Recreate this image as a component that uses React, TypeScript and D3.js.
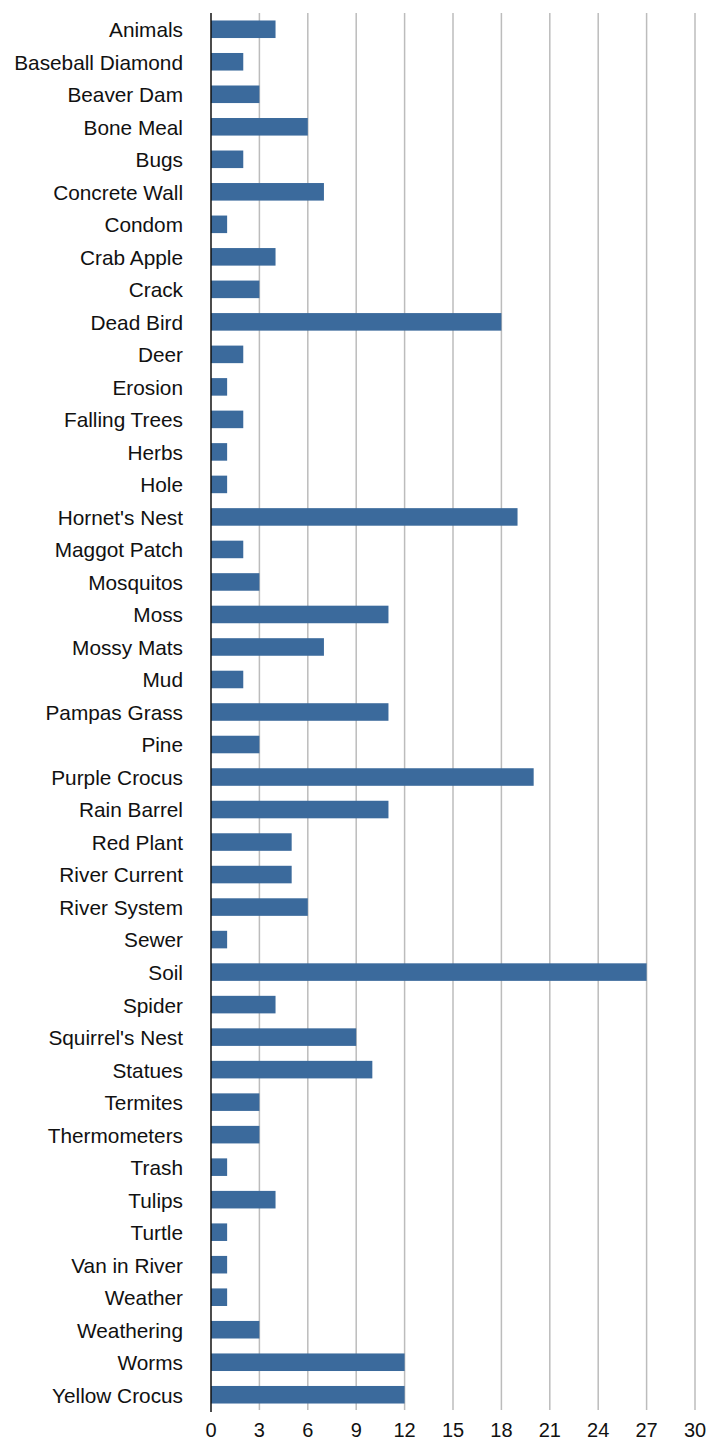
import React from "react";
import * as d3 from "d3";

const categories: string[] = [
  "Animals", "Baseball Diamond", "Beaver Dam", "Bone Meal", "Bugs", "Concrete Wall",
  "Condom", "Crab Apple", "Crack", "Dead Bird", "Deer", "Erosion", "Falling Trees",
  "Herbs", "Hole", "Hornet's Nest", "Maggot Patch", "Mosquitos", "Moss", "Mossy Mats",
  "Mud", "Pampas Grass", "Pine", "Purple Crocus", "Rain Barrel", "Red Plant",
  "River Current", "River System", "Sewer", "Soil", "Spider", "Squirrel's Nest",
  "Statues", "Termites", "Thermometers", "Trash", "Tulips", "Turtle", "Van in River",
  "Weather", "Weathering", "Worms", "Yellow Crocus",
];

const counts: number[] = [
  4, 2, 3, 6, 2, 7,
  1, 4, 3, 18, 2, 1, 2,
  1, 1, 19, 2, 3, 11, 7,
  2, 11, 3, 20, 11, 5,
  5, 6, 1, 27, 4, 9,
  10, 3, 3, 1, 4, 1, 1,
  1, 3, 12, 12,
];

const ticks: number[] = [0, 3, 6, 9, 12, 15, 18, 21, 24, 27, 30];

const width = 709;
const height = 1443;
const left = 211;
const right = 695;
const top = 13;
const bottom = 1411;
const font = "'Liberation Sans', Arial, Helvetica, sans-serif";

const App = () => {
  const x = d3.scaleLinear().domain([0, 30]).range([left, right]);
  const y = d3.scaleBand<string>().domain(categories).range([top, bottom]).paddingInner(0.46).paddingOuter(0.23);

  return (
    <svg width={width} height={height} style={{ position: "absolute", left: 0, top: 0, background: "#fff" }}>
      {ticks.slice(1).map((t) => (
        <line key={"g" + t} x1={x(t)} x2={x(t)} y1={top} y2={bottom - 1} stroke="#bcbcbc" strokeWidth={1.5} />
      ))}
      {categories.map((c, i) => (
        <g key={c}>
          <rect x={x(0)} y={y(c)} width={x(counts[i]) - x(0)} height={y.bandwidth()} fill="#3b6a9c" />
          <text
            x={left - 28}
            y={y(c)! + y.bandwidth() / 2}
            dy="0.38em"
            textAnchor="end"
            fontFamily={font}
            fontSize={20.8}
            fill="#111"
          >
            {c}
          </text>
        </g>
      ))}
      <line x1={x(0)} x2={x(0)} y1={top} y2={bottom + 1} stroke="#111" strokeWidth={1.5} />
      {ticks.map((t) => (
        <text key={"t" + t} x={x(t)} y={1437} textAnchor="middle" fontFamily={font} fontSize={20} fill="#111">
          {t}
        </text>
      ))}
    </svg>
  );
};

export default App;
